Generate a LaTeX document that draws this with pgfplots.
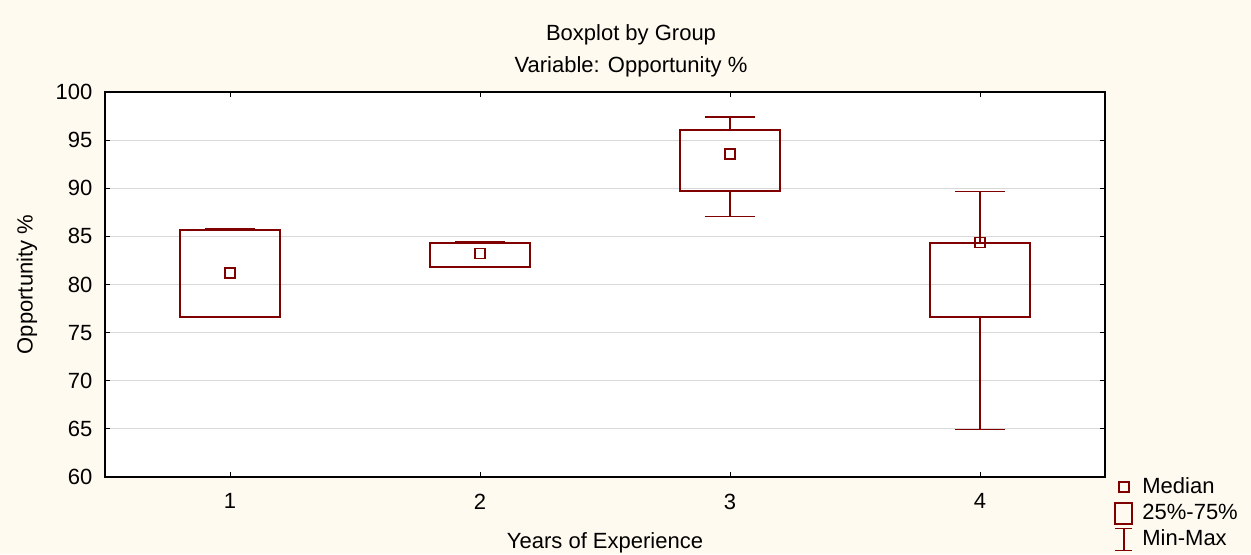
\documentclass[border=0pt]{standalone}
\usepackage{pgfplots}
\pgfplotsset{compat=1.18}
\usepackage{fontspec}
\setmainfont{Liberation Sans}
\definecolor{cream}{HTML}{FFFAEF}
\definecolor{boxred}{HTML}{800000}
\begin{document}
\fontsize{11}{13}\selectfont
\begin{tikzpicture}
\path[use as bounding box, fill=cream] (0,0) rectangle (625.5pt,277pt);
\node at (315.5pt,259.5pt) {Boxplot by Group};
\node at (315.5pt,243.5pt) {Variable: Opportunity \%};
\begin{axis}[
  at={(52.5pt,38.5pt)}, anchor=south west,
  scale only axis, width=500pt, height=192.5pt,
  xmin=0.5, xmax=4.5, ymin=60, ymax=100,
  xtick={1,2,3,4}, ytick={60,65,...,100},
  tick align=inside, major tick length=2.5pt,
  ymajorgrids, grid style={draw=black!15, line width=0.6pt},
  axis background/.style={fill=white},
  axis line style={black, line width=0.6pt},
  tick style={black, line width=0.5pt},
  /pgf/number format/assume math mode=true,
  ticklabel style={font=\fontsize{11}{13}\selectfont},
  yticklabel style={xshift=-2.5pt},
  xticklabel style={yshift=-4.5pt},
  xlabel={Years of Experience},
  ylabel={Opportunity \%},
  xlabel style={at={(axis description cs:0.5,-0.171)}, anchor=center},
  ylabel style={at={(axis description cs:-0.078,0.5)}, anchor=center},
  label style={font=\fontsize{11}{13}\selectfont},
  unbounded coords=jump,
  legend style={at={(1,0)}, anchor=north west, xshift=4.5pt, yshift=1pt,
    draw=none, fill=none, inner sep=0pt, row sep=1.5pt,
    nodes={inner sep=1pt},
    /tikz/every odd column/.append style={column sep=3.5pt},
    font=\fontsize{11}{13}\selectfont},
  legend cell align=left,
]
\addlegendimage{legend image code/.code={\draw[boxred, line width=0.6pt] (1.75pt,-2.5pt) rectangle (6.75pt,2.5pt); \path[draw=none, fill=none] (0,-5.5pt) rectangle (8.5pt,5.5pt);}}
\addlegendimage{legend image code/.code={\draw[boxred, line width=1pt] (0,-5.25pt) rectangle (8.5pt,5.25pt);}}
\addlegendimage{legend image code/.code={\draw[boxred, line width=0.6pt] (0,-5.5pt)--(8.5pt,-5.5pt) (4.25pt,-5.5pt)--(4.25pt,5.5pt) (0,5.5pt)--(8.5pt,5.5pt);}}
\legend{Median,25\%-75\%,Min-Max}

% whiskers (Min-Max)
\addplot[boxred, line width=0.6pt, forget plot] coordinates {
 (0.9,85.84) (1.1,85.84) (nan,nan) (1,85.84) (1,85.66) (nan,nan) (0.9,76.6) (1.1,76.6)};
\addplot[boxred, line width=0.6pt, forget plot] coordinates {
 (1.9,84.45) (2.1,84.45) (nan,nan) (2,84.45) (2,84.34) (nan,nan) (1.9,81.85) (2.1,81.85)};
\addplot[boxred, line width=0.6pt, forget plot] coordinates {
 (2.9,97.4) (3.1,97.4) (nan,nan) (3,97.4) (3,96.05) (nan,nan) (3,89.75) (3,87.05) (nan,nan) (2.9,87.05) (3.1,87.05)};
\addplot[boxred, line width=0.6pt, forget plot] coordinates {
 (3.9,89.64) (4.1,89.64) (nan,nan) (4,89.64) (4,84.34) (nan,nan) (4,76.65) (4,64.95) (nan,nan) (3.9,64.95) (4.1,64.95)};

% boxes (25%-75%)
\addplot[boxred, line width=1pt, line join=miter, forget plot] coordinates {
 (1,76.6) (1.2,76.6) (1.2,85.66) (0.8,85.66) (0.8,76.6) (1,76.6)};
\addplot[boxred, line width=1pt, line join=miter, forget plot] coordinates {
 (2,81.85) (2.2,81.85) (2.2,84.34) (1.8,84.34) (1.8,81.85) (2,81.85)};
\addplot[boxred, line width=1pt, line join=miter, forget plot] coordinates {
 (3,89.75) (3.2,89.75) (3.2,96.05) (2.8,96.05) (2.8,89.75) (3,89.75)};
\addplot[boxred, line width=1pt, line join=miter, forget plot] coordinates {
 (4,76.65) (4.2,76.65) (4.2,84.34) (3.8,84.34) (3.8,76.65) (4,76.65)};

% medians
\addplot[only marks, mark=square, mark size=2.5pt, boxred, mark options={line width=0.6pt}, forget plot] coordinates {(1,81.2) (2,83.2) (3,93.56) (4,84.38)};
\end{axis}
\end{tikzpicture}
\end{document}
